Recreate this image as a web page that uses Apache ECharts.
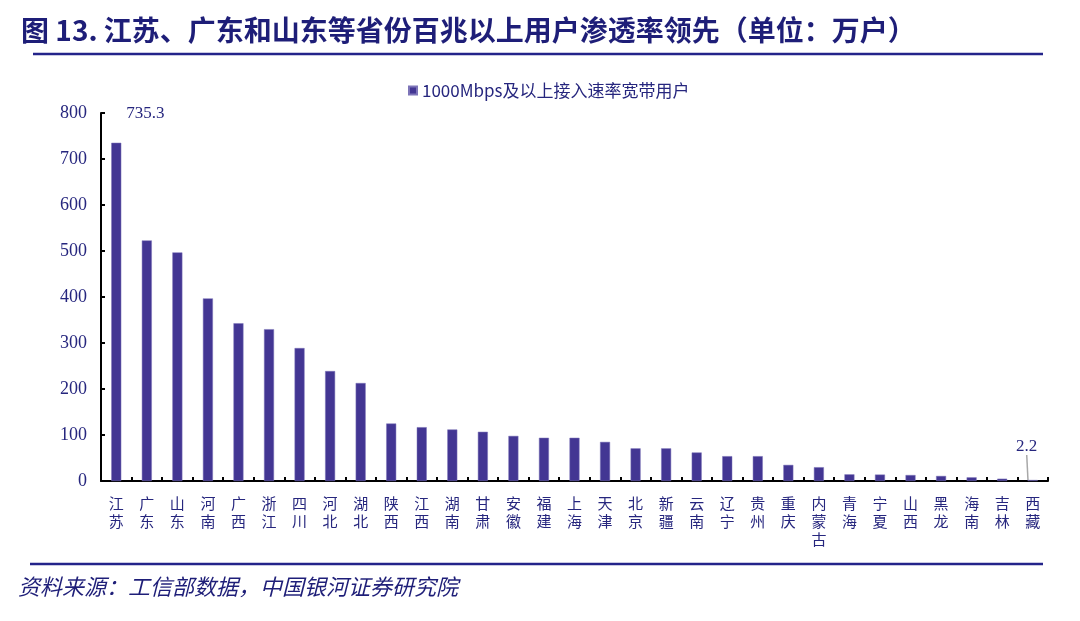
<!DOCTYPE html>
<html>
<head>
<meta charset="utf-8">
<script src="https://cdn.jsdelivr.net/npm/echarts@6/dist/echarts.min.js"></script>
<style>
html,body{margin:0;padding:0;background:#fff;}
#c{width:1080px;height:621px;}
</style>
</head>
<body>
<div id="c"></div>
<script>
const categories = ['江苏','广东','山东','河南','广西','浙江','四川','河北','湖北','陕西','江西','湖南','甘肃','安徽','福建','上海','天津','北京','新疆','云南','辽宁','贵州','重庆','内蒙古','青海','宁夏','山西','黑龙','海南','吉林','西藏'];
const values = [735.3,523,497,397,343,330,289,239,213,125,117,112,107,98,94,94,85,71,71,62,54,54,35,30,14.5,14,13,11,8,5,2.2];
const seriesName = '1000Mbps及以上接入速率宽带用户';
const titleText = '图 13. 江苏、广东和山东等省份百兆以上用户渗透率领先（单位：万户）';
const sourceText = '资料来源：工信部数据，中国银河证券研究院';
const yTicks = {min: 0, max: 800, interval: 100};
const labeledTop = 0;
const labeledLast = 30;

const navy = '#26267e';
const numFont = '"Liberation Serif", "DejaVu Serif", serif';
const cjkFont = '"Noto Sans CJK SC", sans-serif';

const chart = echarts.init(document.getElementById('c'), null, {renderer: 'canvas'});

const data = values.map((v, i) => {
  const item = {value: v};
  if (i === labeledTop) {
    item.label = {show: true};
    item.labelLine = {show: false};
  } else if (i === labeledLast) {
    item.label = {show: true};
    item.labelLine = {show: true};
  }
  return item;
});

chart.setOption({
  animation: false,
  backgroundColor: '#fff',
  title: {
    text: titleText,
    left: 16, top: 11,
    textStyle: {fontFamily: cjkFont, fontSize: 28, fontWeight: 'bold', color: '#1e1e78'}
  },
  graphic: [
    {type: 'line', shape: {x1: 33, y1: 54, x2: 1043, y2: 54}, style: {stroke: '#24248a', lineWidth: 2.5}},
    {type: 'line', shape: {x1: 30, y1: 564, x2: 1043, y2: 564}, style: {stroke: '#24248a', lineWidth: 2.5}},
    {type: 'text', left: 18, top: 576, style: {text: sourceText, font: 'italic 22px ' + cjkFont, fill: '#1e1e78'}}
  ],
  legend: {
    data: [seriesName],
    left: 403, top: 77,
    icon: 'rect', itemWidth: 8, itemHeight: 8, itemGap: 5,
    textStyle: {fontFamily: cjkFont, fontSize: 17, color: navy}
  },
  grid: {left: 101, right: 32, top: 113, bottom: 140, containLabel: false},
  xAxis: {
    type: 'category',
    data: categories,
    axisLine: {lineStyle: {color: '#000', width: 2}},
    axisTick: {show: true, inside: true, length: 4, lineStyle: {color: '#000', width: 2}},
    axisLabel: {
      interval: 0, margin: 13,
      fontFamily: cjkFont, fontSize: 15, lineHeight: 18, color: navy,
      formatter: v => v.split('').join('\n')
    }
  },
  yAxis: {
    type: 'value',
    min: yTicks.min, max: yTicks.max, interval: yTicks.interval,
    splitLine: {show: false},
    axisLine: {show: true, lineStyle: {color: '#000', width: 2}},
    axisTick: {show: true, inside: true, length: 4, lineStyle: {color: '#000', width: 2}},
    axisLabel: {fontFamily: numFont, fontSize: 18, color: navy, margin: 14}
  },
  series: [{
    name: seriesName,
    type: 'bar',
    data: data,
    barWidth: 10,
    itemStyle: {color: '#433693', borderColor: '#7d74b8', borderWidth: 0.5},
    label: {
      show: false, position: 'top',
      fontFamily: numFont, fontSize: 17, color: navy,
      formatter: p => String(p.value)
    },
    labelLine: {show: false, lineStyle: {color: '#a8a8a8', width: 1.5}},
    labelLayout: function (p) {
      if (p.dataIndex === labeledTop) return {dx: 29, dy: -16};
      if (p.dataIndex === labeledLast) return {dx: -6, dy: -20};
      return {};
    }
  }]
});
</script>
</body>
</html>
